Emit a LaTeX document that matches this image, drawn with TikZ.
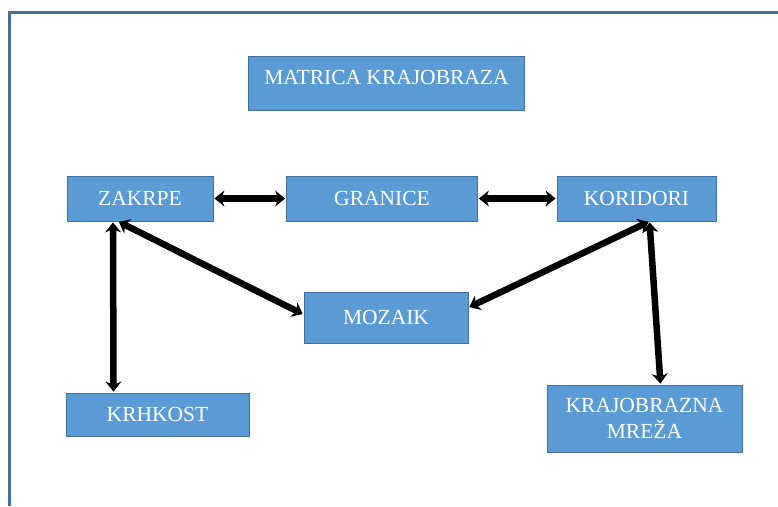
\documentclass[tikz,border=0pt]{standalone}
\usepackage{fontspec}
\setmainfont{Liberation Serif}
\usetikzlibrary{arrows.meta}
\usetikzlibrary{positioning}
\definecolor{boxfill}{HTML}{5B9BD5}
\definecolor{boxline}{HTML}{41719C}
\tikzset{
  box/.style={draw=boxline,fill=boxfill,thick,text=white,align=center,inner sep=0pt,font=\fontsize{21.5}{26}\selectfont},
  link/.style={{Stealth[length=10pt,width=16pt]}-{Stealth[length=10pt,width=16pt]},line width=6.5pt,shorten <=1pt,shorten >=1pt}
}
\newcommand{\link}[2]{\draw[link] #1 -- #2}

\begin{document}
\begin{tikzpicture}[x=1pt,y=-1pt]
    \useasboundingbox (0,0) rectangle (778,506);
    % frame
    \draw [boxline,line width=3pt] (9.5,506) -- (9.5,12) -- (778,12);
    % boxes
    \node[box,minimum width=276pt,minimum height=54pt,text depth=12pt] (matrica) at (386.5,83) {MATRICA KRAJOBRAZA};
    \node[box,minimum width=146pt,minimum height=45pt] (zakrpe) at (140,198.5) {ZAKRPE};
    \node[box,minimum width=191pt,minimum height=45pt] (granice) at (382,198.5) {GRANICE};
    \node[box,minimum width=159pt,minimum height=45pt] (koridori) at (636.5,198.5) {KORIDORI};
    \node[box,minimum width=164pt,minimum height=51pt] (mozaik) at (386,317.5) {MOZAIK};
    \node[box,minimum width=183pt,minimum height=43pt] (krhkost) at (157.5,414.5) {KRHKOST};
    \node[box,minimum width=195pt,minimum height=67pt] (mreza) at (644.5,418.5) {KRAJOBRAZNA\\MREŽA};
    % links
    \link{(zakrpe.east)}{(granice.west)};
    \link{(granice.east)}{(koridori.west)};
    \link{([xshift=-27pt]zakrpe.south)}{([xshift=-44pt]krhkost.north)};
    \link{([xshift=-22pt]zakrpe.south)}{([yshift=3pt]mozaik.west)};
    \link{([xshift=13pt]koridori.south)}{([yshift=10pt]mozaik.east)};
    \link{([xshift=13pt]koridori.south)}{([xshift=16pt]mreza.north)};
\end{tikzpicture}
\end{document}
